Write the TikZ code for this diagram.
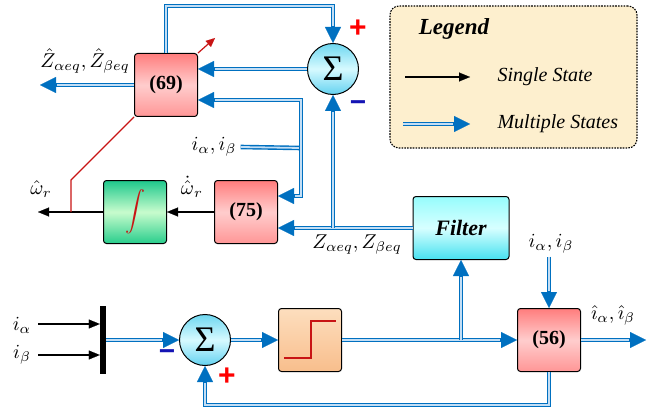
\documentclass[tikz,border=0pt]{standalone}
\usepackage{graphicx}
\usepackage{fontspec}
\setmainfont{Liberation Serif}
\newfontfamily\signfont{Liberation Sans}
\usetikzlibrary{arrows.meta}

% math labels: set at 10pt and enlarged, so the strokes stay heavy
\newcommand\mlb[1]{\scalebox{2.0}{#1}}

\definecolor{mblue}{RGB}{0,112,192}
\definecolor{mlight}{RGB}{195,222,245}
\definecolor{legfill}{RGB}{253,239,206}
\definecolor{pinkT}{RGB}{255,125,125}
\definecolor{pinkM}{RGB}{255,205,205}
\definecolor{pinkB}{RGB}{255,150,150}
\definecolor{grnT}{RGB}{30,200,140}
\definecolor{grnM}{RGB}{200,252,205}
\definecolor{grnB}{RGB}{40,205,140}
\definecolor{cyT}{RGB}{150,252,252}
\definecolor{cyM}{RGB}{215,255,255}
\definecolor{cyB}{RGB}{70,225,240}
\definecolor{sumT}{RGB}{110,215,240}
\definecolor{sumM}{RGB}{215,250,255}
\definecolor{sumB}{RGB}{100,210,240}
\definecolor{pchT}{RGB}{253,222,190}
\definecolor{pchB}{RGB}{248,190,140}
\definecolor{sigred}{RGB}{200,20,20}
\definecolor{minblue}{RGB}{20,20,180}

\begin{document}
\begin{tikzpicture}[x=1pt,y=-1pt,
  blk/.style={draw=black, line width=1pt, rounded corners=3pt,
    minimum width=63pt, minimum height=63pt, inner sep=0pt},
  eqblk/.style={blk, top color=pinkT, bottom color=pinkB, middle color=pinkM,
    font=\fontsize{20}{20}\selectfont\bfseries},
  intblk/.style={blk, top color=grnT, bottom color=grnB, middle color=grnM},
  filtblk/.style={blk, minimum width=96pt, top color=cyT, bottom color=cyB,
    middle color=cyM, font=\fontsize{22}{22}\selectfont\bfseries\itshape},
  relblk/.style={blk, top color=pchT, bottom color=pchB},
  sumc/.style={circle, draw=black, line width=1pt, minimum size=51pt, inner sep=0pt,
    top color=sumT, bottom color=sumB, middle color=sumM,
    font=\fontsize{36}{36}\selectfont},
  mline/.style={draw=mblue, line width=4.6pt, postaction={draw=mlight, line width=1.8pt}},
  marrow/.style={draw=mblue, line width=4.6pt,
    -{Triangle[length=16pt,width=16pt,line width=0.1pt]},
    postaction={draw=mlight, line width=1.8pt, -, shorten >=17pt}},
  sarrow/.style={draw=black, line width=1.2pt, -{Triangle[length=11pt,width=9pt,line width=0.1pt]}},
  redline/.style={draw=sigred, line width=1.2pt},
  mlab/.style={inner sep=1pt},
  plus/.style={font=\signfont\bfseries\fontsize{30}{30}\selectfont, text=red, inner sep=0pt},
  minus/.style={font=\signfont\bfseries\fontsize{28}{28}\selectfont, text=minblue, inner sep=0pt},
  legtxt/.style={font=\fontsize{20}{22}\selectfont\itshape, anchor=west}
]
\useasboundingbox (0,0) rectangle (654,412);

% ---------- legend ----------
\node[draw=black, dash pattern=on 1.6pt off 1.2pt, line width=1.1pt, rounded corners=9pt,
  fill=legfill, minimum width=247pt, minimum height=142pt] (leg) at (513.5,77) {};
\node[font=\fontsize{23}{25}\selectfont\bfseries\itshape] (legt) at (454,29) {Legend};
\coordinate (l1a) at (405,77);
\coordinate (l1b) at (470,77);
\coordinate (l2a) at (403,124);
\coordinate (l2b) at (470,124);
\draw[sarrow] (l1a) -- (l1b);
\draw[marrow] (l2a) -- (l2b);
\node[legtxt] (lsingle) at (494,77) {Single State};
\node[legtxt] (lmulti) at (494,124) {Multiple States};

% ---------- blocks ----------
\node[eqblk] (n69) at (166,85) {(69)};
\node[eqblk] (n75) at (246,212) {(75)};
\node[eqblk] (n56) at (549,340) {(56)};
\node[intblk] (int) at (135,212) {};
\node[filtblk] (filt) at (461,228) {Filter};
\node[relblk] (rel) at (310,340) {};
\node[sumc] (s1) at (333,69) {Σ};
\node[sumc] (s2) at (205,340) {Σ};
\node[fill=black, minimum width=6pt, minimum height=68pt, inner sep=0pt] (mux) at (103,340) {};

% integrator and relay symbols
\node[text=sigred, inner sep=0pt] (intsym) at (int.center) {\scalebox{2}{$\displaystyle\int$}};
\draw[draw=sigred, line width=1.4pt] (284,358) -- (311,358) -- (311,321) -- (336,321);

% ---------- upper loop ----------
\draw[marrow] (n69.north) -- ++(0,-47) -| (s1.north);
\draw[marrow] (s1.west) -- (s1.west -| n69.east);
\coordinate (zout) at (40,85);
\draw[marrow] (n69.west) -- (zout);
\node[mlab] (zhat) at (85,61) {\mlb{$\hat{Z}_{\alpha eq},\hat{Z}_{\beta eq}$}};

\node[mlab] (ilab) at (214,147) {\mlb{$i_\alpha,i_\beta$}};
\coordinate (j1) at (301,148);
\draw[mline] ([xshift=3pt]ilab.east) -- (j1);
\draw[marrow] (j1) |- ([yshift=-15pt]n69.east);
\draw[marrow] (j1) |- ([yshift=16pt]n75.east);

\draw[marrow] (filt.west) -- ([yshift=-16pt]n75.east);
\draw[marrow] (s1.south |- filt.west) -- (s1.south);
\node[mlab] (zlab) at (357,245) {\mlb{$Z_{\alpha eq},Z_{\beta eq}$}};

\node[plus] (p1) at (358,29) {+};
\node[minus] (m1) at (358,106) {−};

% speed estimate
\draw[sarrow] (n75.west) -- (int.east);
\node[mlab] (wdot) at (192,187) {\mlb{$\dot{\hat{\omega}}_r$}};
\coordinate (wout) at (38,212);
\draw[sarrow] (int.west) -- (wout);
\node[mlab] (wlab) at (41,189) {\mlb{$\hat{\omega}_r$}};
\coordinate (rk) at (71,180);
\draw[redline] (n69.south west) -- (rk) -- (rk |- int.west);
\draw[redline, -{Triangle[length=9pt,width=8pt,line width=0.1pt]}] (n69.north east) -- ++(17,-15);

% ---------- lower loop ----------
\node[mlab] (ia) at (22,325) {\mlb{$i_\alpha$}};
\node[mlab] (ib) at (22,355) {\mlb{$i_\beta$}};
\coordinate (iaS) at (38,324);
\coordinate (ibS) at (38,355);
\draw[sarrow] (iaS) -- (iaS -| mux.west);
\draw[sarrow] (ibS) -- (ibS -| mux.west);

\draw[marrow] (mux.east) -- (s2.west);
\draw[marrow] (s2.east) -- (rel.west);
\draw[marrow] (rel.east) -- (n56.west);
\draw[marrow] (filt.south |- rel.east) -- (filt.south);
\node[minus] (m2) at (167,355) {−};
\node[plus] (p2) at (227,377) {+};

\node[mlab] (ilab2) at (551,244) {\mlb{$i_\alpha,i_\beta$}};
\draw[marrow] ([yshift=-2pt]ilab2.south -| n56.north) -- (n56.north);
\coordinate (iout) at (646,340);
\draw[marrow] (n56.east) -- (iout);
\node[mlab] (ihat) at (613,315) {\mlb{$\hat{\imath}_\alpha,\hat{\imath}_\beta$}};

\draw[marrow] (n56.south) -- ++(0,33) -| (s2.south);
\end{tikzpicture}
\end{document}
